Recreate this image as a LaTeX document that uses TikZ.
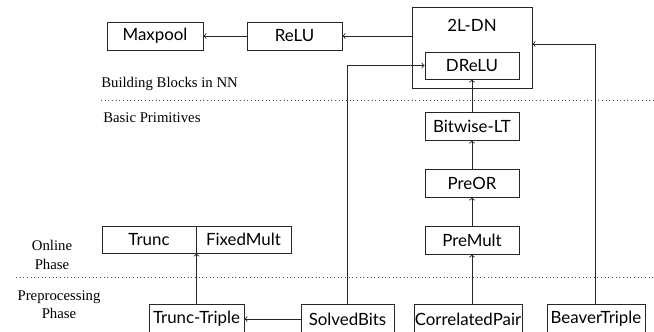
\documentclass[tikz,border=0pt]{standalone}
\usepackage{fontspec}
\setsansfont{Lato}
\newfontfamily\lblfont{Liberation Serif}
\usetikzlibrary{positioning}
\begin{document}
\begin{tikzpicture}[
    x=0.025cm, y=-0.025cm,
    box/.style={draw=black!85, line width=0.6pt, inner sep=0pt, minimum height=0.7cm,
        font=\sffamily\fontsize{12}{14}\selectfont},
    arr/.style={->, draw=black!85, line width=0.6pt},
    sep/.style={dotted, draw=black!70, line width=0.6pt},
    lbl/.style={font=\lblfont\fontsize{10.5}{13}\selectfont, inner sep=0pt}
]
\useasboundingbox (0,0) rectangle (654,331);
% Building Blocks
\node[box, minimum width=2.4cm] (maxpool) at (155,36) {Maxpool};
\node[box, minimum width=2.375cm] (relu) at (294.5,36) {ReLU};
\node[box, minimum width=3cm, minimum height=2.025cm] (twoldn) at (472,47.5) {};
\node[font=\sffamily\fontsize{12}{14}\selectfont] (twoldnlbl) at (472,25) {2L-DN};
\node[box, minimum width=2.35cm, minimum height=0.675cm] (drelu) at (472,65.5) {DReLU};
% Basic Primitives
\node[box, minimum width=2.35cm] (bitlt) at (472,126) {Bitwise-LT};
\node[box, minimum width=2.35cm] (preor) at (472,183) {PreOR};
\node[box, minimum width=2.35cm] (premult) at (472,240) {PreMult};
\node[box, minimum width=2.35cm, minimum height=0.675cm] (trunc) at (149,239.5) {Trunc};
\node[box, minimum width=2.375cm, minimum height=0.675cm] (fixedmult) at (243.5,239.5) {FixedMult};
% Preprocessing
\node[box, minimum width=2.375cm, minimum height=0.75cm] (trunctriple) at (196.5,319) {Trunc-Triple};
\node[box, minimum width=2.325cm, minimum height=0.75cm] (solvedbits) at (347.5,319) {SolvedBits};
\node[box, minimum width=2.7cm, minimum height=0.75cm] (corrpair) at (468,319) {CorrelatedPair};
\node[box, minimum width=2.45cm, minimum height=0.75cm] (beaver) at (596,319) {BeaverTriple};
% Separators and labels
\draw[sep] (101,100) -- (654,100);
\draw[sep] (16,277) -- (654,277);
\node[lbl, anchor=west] (blocks) at (101,84) {Building Blocks in NN};
\node[lbl, anchor=west] (prims) at (103,118) {Basic Primitives};
\node[lbl, align=center] (online) at (52,255) {Online\\Phase};
\node[lbl, align=center] (preproc) at (59,305) {Preprocessing\\Phase};
% Connectors
\draw[arr] (relu) -- (maxpool);
\draw[arr] (twoldn.west |- relu) -- (relu.east);
\draw[arr] (solvedbits.north) |- (drelu.west);
\draw[arr] (beaver.north -| 595,0) |- ([yshift=2.5pt]twoldn.east);
\draw[arr] (bitlt) -- (drelu);
\draw[arr] (preor) -- (bitlt);
\draw[arr] (premult) -- (preor);
\draw[arr] (premult |- corrpair.north) -- (premult.south);
\draw[arr] (solvedbits) -- (trunctriple);
\draw[arr] (trunctriple.north) -- (trunctriple.north |- trunc.south);
\end{tikzpicture}
\end{document}
